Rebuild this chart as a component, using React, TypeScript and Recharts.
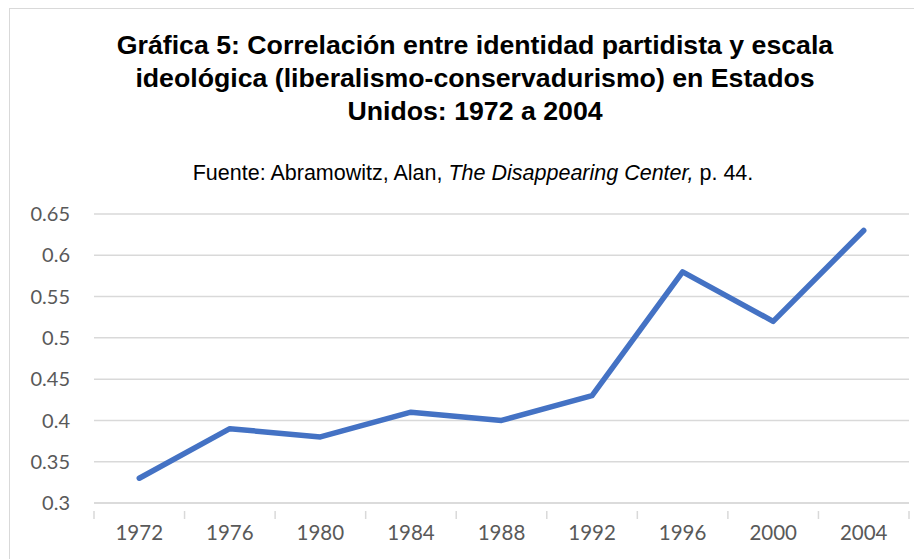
import React from 'react';
import { LineChart, Line, XAxis, YAxis, CartesianGrid } from 'recharts';

const years = ['1972', '1976', '1980', '1984', '1988', '1992', '1996', '2000', '2004'];
const correlation = [0.33, 0.39, 0.38, 0.41, 0.4, 0.43, 0.58, 0.52, 0.63];
const yTicks = [0.3, 0.35, 0.4, 0.45, 0.5, 0.55, 0.6, 0.65];

const data = years.map((year, i) => ({ year, value: correlation[i] }));

const W = 913;
const H = 551;
const PLOT_LEFT = 84;
const PLOT_RIGHT = 899;
const BAND = (PLOT_RIGHT - PLOT_LEFT) / years.length;

// Excel-style ticks sit on the category boundaries, not the centres
const XTick = (props: any) => {
  const { x, y, payload, index } = props;
  const left = x - BAND / 2;
  return (
    <g>
      <line x1={left} y1={y} x2={left} y2={y + 8} stroke="#d9d9d9" strokeWidth={1.5} />
      {index === years.length - 1 && (
        <line x1={left + BAND} y1={y} x2={left + BAND} y2={y + 8} stroke="#d9d9d9" strokeWidth={1.5} />
      )}
      <text x={x} y={y + 29} textAnchor="middle" fill="#595959" fontSize={20.5} fontFamily="Lato, sans-serif">
        {payload.value}
      </text>
    </g>
  );
};

export default function App() {
  return (
    <div
      style={{
        position: 'relative',
        width: W,
        height: H,
        borderTop: '1.5px solid #d9d9d9',
        borderLeft: '1.5px solid #d9d9d9',
        marginLeft: 1,
        fontFamily: '"Liberation Sans", Arial, sans-serif',
        background: '#fff',
      }}
    >
      <div
        style={{
          position: 'absolute',
          top: 20,
          left: 0,
          width: 930,
          textAlign: 'center',
          fontWeight: 'bold',
          fontSize: 26.7,
          lineHeight: '33px',
          color: '#000',
        }}
      >
        Gráfica 5: Correlación entre identidad partidista y escala
        <br />
        ideológica (liberalismo-conservadurismo) en Estados
        <br />
        Unidos: 1972 a 2004
      </div>
      <div
        style={{
          position: 'absolute',
          top: 151,
          left: 0,
          width: 926,
          textAlign: 'center',
          fontSize: 21.5,
          lineHeight: '26px',
          color: '#000',
        }}
      >
        Fuente: Abramowitz, Alan, <i>The Disappearing Center,</i> p. 44.
      </div>
      <div style={{ position: 'absolute', top: 0, left: 0 }}>
        <LineChart width={W} height={H} data={data} margin={{ top: 205, right: W - PLOT_RIGHT, bottom: 27, left: 0 }}>
          <CartesianGrid vertical={false} stroke="#d9d9d9" strokeWidth={1.5} />
          <XAxis
            dataKey="year"
            axisLine={{ stroke: '#d9d9d9', strokeWidth: 1.5 }}
            tickLine={false}
            tick={<XTick />}
            height={30}
            interval={0}
            padding={{ left: BAND / 2, right: BAND / 2 }}
          />
          <YAxis
            type="number"
            domain={[0.3, 0.65]}
            ticks={yTicks}
            width={PLOT_LEFT}
            axisLine={false}
            tickLine={false}
            tickSize={0}
            tickMargin={24}
            tick={{ fill: '#595959', fontSize: 20, fontFamily: 'Lato, sans-serif' }}
            tickFormatter={(v: number) => String(Number(v.toFixed(2)))}
          />
          <Line
            type="linear"
            dataKey="value"
            stroke="#4472c4"
            strokeWidth={5.5}
            strokeLinecap="round"
            strokeLinejoin="round"
            dot={false}
            activeDot={false}
            isAnimationActive={false}
          />
        </LineChart>
      </div>
    </div>
  );
}
